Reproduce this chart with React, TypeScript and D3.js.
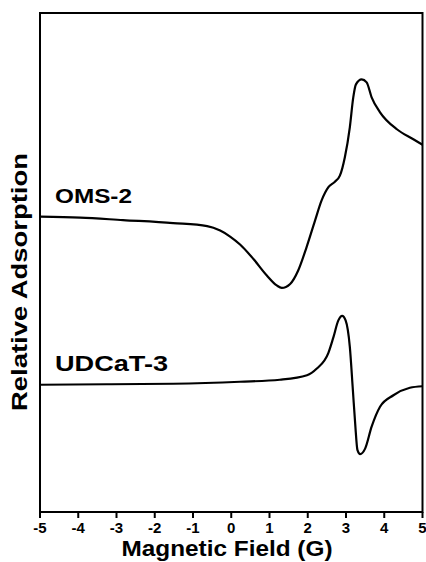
import React from "react";
import * as d3 from "d3";

const xTicks = [-5, -4, -3, -2, -1, 0, 1, 2, 3, 4, 5];

const omsX = [-5.0, -3.95, -2.83, -1.52, -0.63, -0.29, -0.03, 0.23, 0.58, 0.93, 1.19, 1.32, 1.54, 1.75, 1.97, 2.19, 2.36, 2.54, 2.71, 2.84, 2.97, 3.1, 3.19, 3.26, 3.41, 3.54, 3.67, 3.89, 4.33, 4.76, 5.0];
const omsY = [5.92, 5.9, 5.85, 5.79, 5.73, 5.64, 5.52, 5.36, 5.07, 4.74, 4.54, 4.49, 4.57, 4.84, 5.31, 5.84, 6.24, 6.51, 6.62, 6.74, 7.11, 7.71, 8.31, 8.57, 8.67, 8.61, 8.31, 8.01, 7.67, 7.47, 7.36];

const udcX = [-5.0, -3.25, -1.52, 0.23, 1.27, 1.98, 2.23, 2.54, 2.67, 2.8, 2.9, 2.99, 3.1, 3.18, 3.24, 3.3, 3.37, 3.5, 3.67, 3.89, 4.24, 4.67, 5.0];
const udcY = [2.55, 2.56, 2.57, 2.61, 2.65, 2.74, 2.87, 3.19, 3.5, 3.84, 3.93, 3.84, 3.31, 2.44, 1.77, 1.24, 1.16, 1.27, 1.71, 2.11, 2.34, 2.49, 2.52];

const seriesNames = ["OMS-2", "UDCaT-3"];

const W = 426;
const H = 562;
const M = { left: 40, right: 422.5, top: 13, bottom: 512 };
const FONT = "'Liberation Sans', Arial, Helvetica, sans-serif";

export default function App() {
  const x = d3.scaleLinear().domain([-5, 5]).range([M.left, M.right]);
  const y = d3.scaleLinear().domain([0, 10]).range([M.bottom, M.top]);
  const line = d3
    .line<[number, number]>()
    .x((d) => x(d[0]))
    .y((d) => y(d[1]))
    .curve(d3.curveMonotoneX);

  const oms: [number, number][] = omsX.map((v, i) => [v, omsY[i]]);
  const udc: [number, number][] = udcX.map((v, i) => [v, udcY[i]]);

  return (
    <svg
      width={W}
      height={H}
      style={{ position: "absolute", left: 0, top: 0, background: "#fff" }}
    >
      <rect x={0} y={0} width={W} height={H} fill="#fff" />
      <path d={line(oms) || ""} fill="none" stroke="#000" strokeWidth={2.2} />
      <path d={line(udc) || ""} fill="none" stroke="#000" strokeWidth={2.2} />
      <rect
        x={M.left}
        y={M.top}
        width={M.right - M.left}
        height={M.bottom - M.top}
        fill="none"
        stroke="#000"
        strokeWidth={2}
      />
      {xTicks.map((t) => (
        <g key={t}>
          <line x1={x(t)} x2={x(t)} y1={M.bottom} y2={M.bottom + 6} stroke="#000" strokeWidth={2} />
          <text
            x={x(t)}
            y={533}
            textAnchor="middle"
            fontFamily={FONT}
            fontWeight="bold"
            fontSize={15}
          >
            {t}
          </text>
        </g>
      ))}
      <text
        x={227}
        y={556}
        textAnchor="middle"
        fontFamily={FONT}
        fontWeight="bold"
        fontSize={22}
        textLength={211}
        lengthAdjust="spacingAndGlyphs"
      >
        Magnetic Field (G)
      </text>
      <text
        transform="translate(27,282) rotate(-90)"
        textAnchor="middle"
        fontFamily={FONT}
        fontWeight="bold"
        fontSize={22}
        textLength={258}
        lengthAdjust="spacingAndGlyphs"
      >
        Relative Adsorption
      </text>
      <text
        x={55}
        y={203}
        fontFamily={FONT}
        fontWeight="bold"
        fontSize={21}
        textLength={77}
        lengthAdjust="spacingAndGlyphs"
      >
        {seriesNames[0]}
      </text>
      <text
        x={55}
        y={371}
        fontFamily={FONT}
        fontWeight="bold"
        fontSize={22}
        textLength={113}
        lengthAdjust="spacingAndGlyphs"
      >
        {seriesNames[1]}
      </text>
    </svg>
  );
}
